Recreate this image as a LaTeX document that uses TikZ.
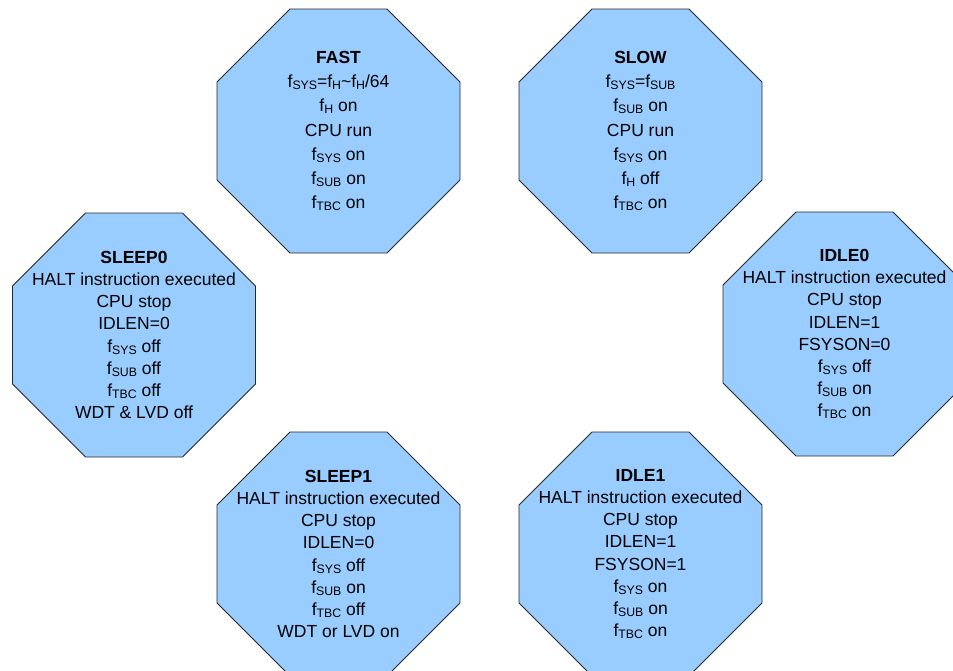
\documentclass[tikz,border=0pt]{standalone}
\usepackage{fontspec}
\setmainfont{Liberation Sans}
\definecolor{octfill}{RGB}{153,204,255}
\definecolor{octline}{RGB}{40,40,40}
\newcommand\sub[1]{\raisebox{-2pt}{\fontsize{12.3}{12}\selectfont #1}}
\tikzset{
  octo/.style={fill=octfill, draw=octline, line width=0.8pt, line join=miter},
  txtseven/.style={align=center, inner sep=0pt, font=\fontsize{17.5}{24.1}\selectfont},
  txteight/.style={align=center, inner sep=0pt, font=\fontsize{17.5}{22.1}\selectfont},
}
\newcommand\octagonat[2]{%
  \draw[octo] (#1pt,-#2pt) ++(-48.5pt,122pt) -- ++(97pt,0pt) -- ++(73pt,-73pt)
    -- ++(0pt,-98pt) -- ++(-73pt,-73pt) -- ++(-97pt,0pt) -- ++(-73pt,73pt)
    -- ++(0pt,98pt) -- cycle;}
\begin{document}
\begin{tikzpicture}
\useasboundingbox (0pt,0pt) rectangle (953pt,-670pt);
\clip (0pt,0pt) rectangle (953pt,-670pt);
\octagonat{338.5}{131}
\octagonat{640.5}{131}
\octagonat{134}{335}
\octagonat{844.5}{334}
\octagonat{338.5}{554}
\octagonat{640.5}{554}
\node[txtseven] (fast) at (338.5pt,-131pt) {\textbf{FAST}\\
  f\sub{SYS}=f\sub{H}\textasciitilde f\sub{H}/64\\
  f\sub{H} on\\ CPU run\\ f\sub{SYS} on\\ f\sub{SUB} on\\ f\sub{TBC} on};
\node[txtseven] (slow) at (640.5pt,-131pt) {\textbf{SLOW}\\
  f\sub{SYS}=f\sub{SUB}\\
  f\sub{SUB} on\\ CPU run\\ f\sub{SYS} on\\ f\sub{H} off\\ f\sub{TBC} on};
\node[txteight] (sleep0) at (134pt,-335pt) {\textbf{SLEEP0}\\
  HALT instruction executed\\ CPU stop\\ IDLEN=0\\
  f\sub{SYS} off\\ f\sub{SUB} off\\ f\sub{TBC} off\\ WDT \& LVD off};
\node[txteight] (idle0) at (844.5pt,-334pt) {\textbf{IDLE0}\\
  HALT instruction executed\\ CPU stop\\ IDLEN=1\\ FSYSON=0\\
  f\sub{SYS} off\\ f\sub{SUB} on\\ f\sub{TBC} on};
\node[txteight] (sleep1) at (338.5pt,-554pt) {\textbf{SLEEP1}\\
  HALT instruction executed\\ CPU stop\\ IDLEN=0\\
  f\sub{SYS} off\\ f\sub{SUB} on\\ f\sub{TBC} off\\ WDT or LVD on};
\node[txteight] (idle1) at (640.5pt,-554pt) {\textbf{IDLE1}\\
  HALT instruction executed\\ CPU stop\\ IDLEN=1\\ FSYSON=1\\
  f\sub{SYS} on\\ f\sub{SUB} on\\ f\sub{TBC} on};
\end{tikzpicture}
\end{document}
